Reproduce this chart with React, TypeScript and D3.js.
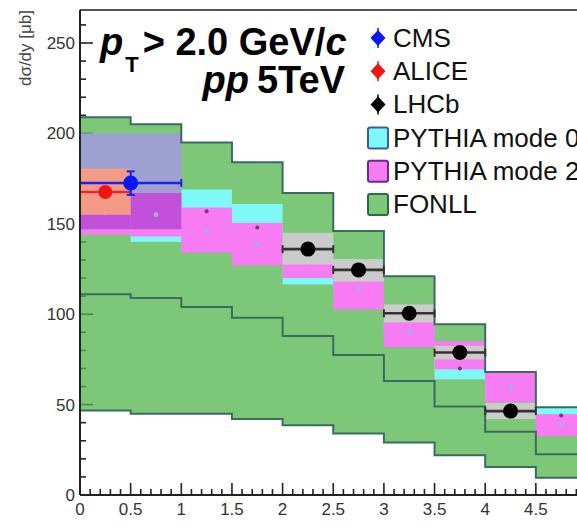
import React from 'react';
import * as d3 from 'd3';

// ---------- data ----------
const binEdges = [0, 0.5, 1, 1.5, 2, 2.5, 3, 3.5, 4, 4.5, 5];
const fonllUpper = [209, 205, 195, 184, 167, 146, 121, 94.4, 68, 48.5];
const fonllCentral = [111, 109, 104, 98, 88, 77.5, 63, 49, 35, 22.6];
const fonllLower = [46.7, 45, 45, 42, 38.6, 34, 29, 22, 15.5, 9.5];
const pythia0Low = [147, 140, 145, 135, 116.5, 113, 90, 64, 52, 39.5];
const pythia0High = [178, 165, 169, 161, 141, 130, 104, 76, 67.2, 48.5];
const pythia2Low = [144, 143, 134, 127, 120, 102.6, 81.7, 69.5, 51.3, 32.6];
const pythia2High = [168, 167, 159, 150.5, 138, 126, 99.3, 85, 68, 44.7];

const lhcbX = [2.25, 2.75, 3.25, 3.75, 4.25];
const lhcbY = [136, 124.5, 100.5, 78.8, 46.4];
const lhcbSysLow = [127.5, 118, 95.5, 75, 42];
const lhcbSysHigh = [145, 130.5, 105.4, 82.5, 51];

const cmsX = [0.5];
const cmsY = [172.6];
const cmsStatLow = [166];
const cmsStatHigh = [179];
const cmsSysLow = [147];
const cmsSysHigh = [200];
const cmsBinLow = [0];
const cmsBinHigh = [1];

const aliceX = [0.25];
const aliceY = [167.6];
const aliceSysLow = [155];
const aliceSysHigh = [180.5];
const aliceBinLow = [0];
const aliceBinHigh = [0.5];

const yMajorTicks = [0, 50, 100, 150, 200, 250];
const xMajorTicks = [0, 0.5, 1, 1.5, 2, 2.5, 3, 3.5, 4, 4.5];
const xTickLabels = ['0', '0.5', '1', '1.5', '2', '2.5', '3', '3.5', '4', '4.5'];

const legendLabels = ['CMS', 'ALICE', 'LHCb', 'PYTHIA mode 0', 'PYTHIA mode 2', 'FONLL'];
const legendKinds = ['marker', 'marker', 'marker', 'box', 'box', 'box'];
const legendFill = ['#0b18f2', '#f01414', '#000000', '#7ff8f8', '#f77cf3', '#7dc97a'];
const legendStroke = ['#0b18f2', '#f01414', '#000000', '#3d5d9a', '#6a2c8c', '#2f6a45'];

// ---------- colours ----------
const GREEN = '#52b64b';
const FONLL_LINE = '#3d6a60';
const CYAN = '#7ff8f8';
const MAGENTA = '#f77cf3';
const LAVENDER = '#9ea0d2';
const PURPLE = '#c350da';
const SALMON = '#f49b88';
const GREY = '#cbcbcb';
const FONT = "'Liberation Sans', Arial, Helvetica, sans-serif";

export default function App() {
  const W = 577, H = 532;
  const x = d3.scaleLinear().domain([0, 5]).range([80, 80 + 5 * 101.3]);
  const y = d3.scaleLinear().domain([0, 250]).range([495, 43]);
  const yTop = 268.2;

  const nb = fonllUpper.length;
  const stepPts = (arrLo: number[], arrHi: number[]) => {
    const pts = arrLo.map((lo, i) => ({ x: binEdges[i], lo, hi: arrHi[i] }));
    pts.push({ x: binEdges[nb], lo: arrLo[nb - 1], hi: arrHi[nb - 1] });
    return pts;
  };
  const fonllPts = stepPts(fonllLower, fonllUpper);
  const area = d3.area<any>().x(d => x(d.x)).y0(d => y(d.lo)).y1(d => y(d.hi)).curve(d3.curveStepAfter);
  const linePts = (arr: number[]) => {
    const pts = arr.map((v, i) => ({ x: binEdges[i], v }));
    pts.push({ x: binEdges[nb], v: arr[nb - 1] });
    return pts;
  };
  const line = d3.line<any>().x(d => x(d.x)).y(d => y(d.v)).curve(d3.curveStepAfter);

  const yMinor = d3.range(0, 261, 10);
  const xMinor = d3.range(0, 5.001, 0.1);

  const rectFor = (x0: number, x1: number, lo: number, hi: number, fill: string, key: string) => (
    <rect key={key} x={x(x0)} y={y(hi)} width={x(x1) - x(x0)} height={y(lo) - y(hi)} fill={fill} />
  );

  // overlap of CMS systematic box with PYTHIA mode 2 boxes
  const overlaps: any[] = [];
  binEdges.slice(0, nb).forEach((e, i) => {
    const x0 = Math.max(e, cmsBinLow[0]);
    const x1 = Math.min(binEdges[i + 1], cmsBinHigh[0]);
    const lo = Math.max(pythia2Low[i], cmsSysLow[0]);
    const hi = Math.min(pythia2High[i], cmsSysHigh[0]);
    if (x1 > x0 && hi > lo) overlaps.push({ x0, x1, lo, hi, i });
  });

  const capH = 4;

  return (
    <svg width={W} height={H} style={{ position: 'absolute', left: 0, top: 0, background: '#fff' }}
      fontFamily={FONT}>
      <rect x={0} y={0} width={W} height={H} fill="#fff" />

      {/* axis ticks (under fills) */}
      {yMinor.map(v => (
        <line key={'ym' + v} x1={x(0)} x2={x(0) + (v % 50 === 0 ? 13 : 6)} y1={y(v)} y2={y(v)}
          stroke="#222" strokeWidth={1.6} />
      ))}
      {xMinor.map((v, i) => (
        <line key={'xm' + i} x1={x(v)} x2={x(v)} y1={y(0)}
          y2={y(0) - (i % 5 === 0 ? 12 : 6)} stroke="#222" strokeWidth={1.6} />
      ))}

      {/* FONLL band */}
      <path d={area(fonllPts) as string} fill={GREEN} fillOpacity={0.75} />

      {/* PYTHIA mode 0 */}
      {pythia0Low.map((lo, i) => rectFor(binEdges[i], binEdges[i + 1], lo, pythia0High[i], CYAN, 'p0' + i))}
      {/* PYTHIA mode 2 */}
      {pythia2Low.map((lo, i) => rectFor(binEdges[i], binEdges[i + 1], lo, pythia2High[i], MAGENTA, 'p2' + i))}
      {/* PYTHIA mode 0 central values */}
      {pythia0Low.map((lo, i) => (
        <circle key={'p0c' + i} cx={x((binEdges[i] + binEdges[i + 1]) / 2)} cy={y((lo + pythia0High[i]) / 2)}
          r={2} fill="#7d3478" />
      ))}

      {/* CMS systematic box */}
      {rectFor(cmsBinLow[0], cmsBinHigh[0], cmsSysLow[0], cmsSysHigh[0], LAVENDER, 'cmsbox')}
      {overlaps.map(o => rectFor(o.x0, o.x1, o.lo, o.hi, PURPLE, 'ov' + o.i))}

      {/* PYTHIA mode 2 central values */}
      {pythia2Low.map((lo, i) => (
        <circle key={'p2c' + i} cx={x((binEdges[i] + binEdges[i + 1]) / 2)} cy={y((lo + pythia2High[i]) / 2)}
          r={2.4} fill="#a9a9f2" />
      ))}

      {/* ALICE systematic box */}
      {rectFor(aliceBinLow[0], aliceBinHigh[0], aliceSysLow[0], aliceSysHigh[0], SALMON, 'alicebox')}

      {/* LHCb systematic boxes */}
      {lhcbX.map((xc, i) => rectFor(xc - 0.25, xc + 0.25, lhcbSysLow[i], lhcbSysHigh[i], GREY, 'lb' + i))}

      {/* FONLL lines */}
      <path d={line(linePts(fonllUpper)) as string} fill="none" stroke={FONLL_LINE} strokeWidth={2} />
      <path d={line(linePts(fonllCentral)) as string} fill="none" stroke={FONLL_LINE} strokeWidth={2} />
      <path d={line(linePts(fonllLower)) as string} fill="none" stroke={FONLL_LINE} strokeWidth={2} />

      {/* LHCb points */}
      {lhcbX.map((xc, i) => (
        <g key={'lp' + i}>
          <line x1={x(xc - 0.25)} x2={x(xc + 0.25)} y1={y(lhcbY[i])} y2={y(lhcbY[i])} stroke="#333" strokeWidth={2.6} />
          <line x1={x(xc - 0.25)} x2={x(xc - 0.25)} y1={y(lhcbY[i]) - capH} y2={y(lhcbY[i]) + capH} stroke="#333" strokeWidth={2} />
          <line x1={x(xc + 0.25)} x2={x(xc + 0.25)} y1={y(lhcbY[i]) - capH} y2={y(lhcbY[i]) + capH} stroke="#333" strokeWidth={2} />
          <circle cx={x(xc)} cy={y(lhcbY[i])} r={7.5} fill="#000" />
        </g>
      ))}

      {/* ALICE point */}
      {aliceX.map((xc, i) => (
        <g key={'ap' + i}>
          <line x1={x(aliceBinLow[i])} x2={x(aliceBinHigh[i])} y1={y(aliceY[i])} y2={y(aliceY[i])} stroke="#e8282a" strokeWidth={2.4} />
          <line x1={x(aliceBinHigh[i])} x2={x(aliceBinHigh[i])} y1={y(aliceY[i]) - capH} y2={y(aliceY[i]) + capH} stroke="#e8282a" strokeWidth={2} />
          <circle cx={x(xc)} cy={y(aliceY[i])} r={7} fill="#f01414" />
        </g>
      ))}

      {/* CMS point */}
      {cmsX.map((xc, i) => (
        <g key={'cp' + i}>
          <line x1={x(cmsBinLow[i])} x2={x(cmsBinHigh[i])} y1={y(cmsY[i])} y2={y(cmsY[i])} stroke="#1a22f0" strokeWidth={2.6} />
          <line x1={x(cmsBinHigh[i])} x2={x(cmsBinHigh[i])} y1={y(cmsY[i]) - capH} y2={y(cmsY[i]) + capH} stroke="#1a22f0" strokeWidth={2} />
          <line x1={x(xc)} x2={x(xc)} y1={y(cmsStatHigh[i])} y2={y(cmsStatLow[i])} stroke="#1a22f0" strokeWidth={2} />
          <line x1={x(xc) - 4} x2={x(xc) + 4} y1={y(cmsStatHigh[i])} y2={y(cmsStatHigh[i])} stroke="#1a22f0" strokeWidth={2} />
          <line x1={x(xc) - 4} x2={x(xc) + 4} y1={y(cmsStatLow[i])} y2={y(cmsStatLow[i])} stroke="#1a22f0" strokeWidth={2} />
          <circle cx={x(xc)} cy={y(cmsY[i])} r={7.5} fill="#0b18f2" />
        </g>
      ))}

      {/* frame */}
      <line x1={x(0)} x2={W + 20} y1={y(yTop)} y2={y(yTop)} stroke="#555" strokeWidth={2} />
      <line x1={x(0)} x2={x(0)} y1={y(yTop)} y2={y(0)} stroke="#222" strokeWidth={2} />
      <line x1={x(0)} x2={W + 20} y1={y(0)} y2={y(0)} stroke="#222" strokeWidth={2} />

      {/* y labels */}
      {yMajorTicks.map(v => (
        <text key={'yl' + v} x={75} y={y(v)} dy="0.35em" textAnchor="end" fontSize={17} fill="#333">{v}</text>
      ))}
      {/* x labels */}
      {xMajorTicks.map((v, i) => (
        <text key={'xl' + i} x={x(v)} y={515} textAnchor="middle" fontSize={17} fill="#333">{xTickLabels[i]}</text>
      ))}

      {/* y title */}
      <text transform="translate(31,10) rotate(-90)" textAnchor="end" fontSize={17} fill="#444">dσ/dy [μb]</text>

      {/* title */}
      <text x={100} y={55} fontSize={38} fontWeight="bold" fill="#000">
        <tspan fontStyle="italic">p</tspan>
        <tspan fontSize={22} dy={17} dx={2}>T</tspan>
        <tspan dy={-17} dx={4}>{'> 2.0 GeV/'}</tspan>
        <tspan fontStyle="italic">c</tspan>
      </text>
      <text x={345} y={93} fontSize={38} fontWeight="bold" fill="#000" textAnchor="end">
        <tspan fontStyle="italic">pp</tspan>
        <tspan dx={8}>5TeV</tspan>
      </text>

      {/* legend */}
      {legendLabels.map((lab, i) => {
        const base = 47 + 33.2 * i;
        const cy = base - 9;
        const cx = 378;
        return (
          <g key={'lg' + i}>
            {legendKinds[i] === 'marker' ? (
              <g>
                <line x1={cx} x2={cx} y1={cy - 10} y2={cy + 10} stroke={legendStroke[i]} strokeWidth={1.5} />
                <path d={`M${cx},${cy - 8}L${cx + 7.5},${cy}L${cx},${cy + 8}L${cx - 7.5},${cy}Z`} fill={legendFill[i]} />
              </g>
            ) : (
              <rect x={368} y={cy - 10} width={20} height={21} rx={2} fill={legendFill[i]} stroke={legendStroke[i]} strokeWidth={2} />
            )}
            <text x={393} y={base} fontSize={26} fill="#111">{lab}</text>
          </g>
        );
      })}
    </svg>
  );
}
